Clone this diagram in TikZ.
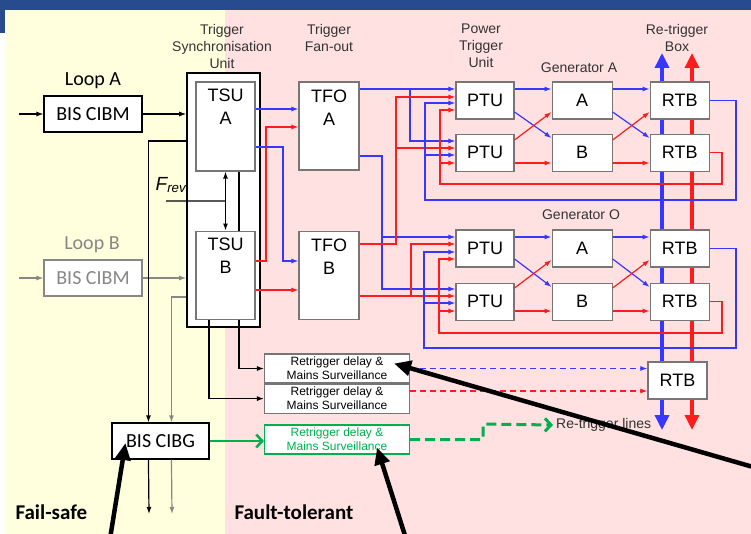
\documentclass[tikz,border=0pt]{standalone}
\usepackage{fontspec}
\setmainfont{Liberation Sans}
\newfontfamily\calibfont{Carlito}
\usetikzlibrary{arrows.meta,calc,positioning}

\definecolor{slideyellow}{RGB}{255,255,222}
\definecolor{slidepink}{RGB}{255,225,225}
\definecolor{banner}{RGB}{40,74,142}
\definecolor{boxgray}{RGB}{118,118,118}
\definecolor{loopgray}{RGB}{135,135,135}
\definecolor{sigblue}{RGB}{55,55,255}
\definecolor{sigred}{RGB}{255,28,28}
\definecolor{siggreen}{RGB}{0,176,80}

\tikzset{
  unit/.style={draw=boxgray,fill=white,line width=1.1pt,inner sep=0pt,
    minimum width=59pt,minimum height=37pt,font=\fontsize{18}{23}\selectfont},
  tallunit/.style={unit,minimum height=88pt},
  unitname/.style={anchor=north,inner sep=0pt,align=center,font=\fontsize{18}{23}\selectfont},
  head/.style={align=center,inner sep=0pt,text=black!80,font=\fontsize{14}{17}\selectfont},
  bis/.style={draw=black,fill=white,line width=1.1pt,minimum width=98pt,minimum height=36pt,
    inner sep=0pt,font=\calibfont\fontsize{20}{24}\selectfont},
  delay/.style={unit,minimum width=145pt,minimum height=29pt,align=center,
    font=\fontsize{12}{14}\selectfont},
  ctrl/.style={draw=black,line width=1.2pt},
  bwire/.style={draw=sigblue,line width=1.2pt},
  rwire/.style={draw=sigred,line width=1.2pt},
  busline/.style={line width=3.5pt,{Triangle[length=15pt,width=14pt]}-{Triangle[length=15pt,width=14pt]}},
  pointer/.style={draw=black,line width=4.5pt,-{Triangle[length=17pt,width=15pt]}},
}

\begin{document}
\begin{tikzpicture}[x=1pt,y=-1pt,>={Latex[length=7pt,width=5pt]}]
  \useasboundingbox (0,0) rectangle (751,534);
  % slide background
  \fill[banner] (0,0) rectangle (751,10);
  \fill[banner] (0,0) rectangle (5,33);
  \fill[slideyellow] (5,10) rectangle (225,534);
  \fill[slidepink] (225,10) rectangle (751,534);

  % re-trigger buses
  \coordinate (bbtop) at (662,53);
  \coordinate (bbbot) at (662,430);
  \coordinate (rbtop) at (692,53);
  \coordinate (rbbot) at (692,430);
  \draw[busline,sigblue] (bbbot) -- (bbtop);
  \draw[busline,sigred] (rbbot) -- (rbtop);

  % headings
  \node[head] (tsuhead) at (222,46) {Trigger\\Synchronisation\\Unit};
  \node[head] (tfohead) at (329,38) {Trigger\\Fan-out};
  \node[head] (ptuhead) at (481,46) {Power\\Trigger\\Unit};
  \node[head] (rtbhead) at (677,38) {Re-trigger\\Box};
  \node[head] (genAhead) at (579,68) {Generator A};
  \node[head] (genOhead) at (581,215) {Generator O};

  % fail-safe side
  \node[font=\calibfont\fontsize{20}{24}\selectfont,anchor=base] (loopA) at (93,86) {Loop A};
  \node[bis] (cibmA) at (93,114) {BIS CIBM};
  \node[font=\calibfont\fontsize{20}{24}\selectfont,anchor=base,text=loopgray] (loopB) at (92,250) {Loop B};
  \node[bis,draw=loopgray,text=loopgray] (cibmB) at (93,278) {BIS CIBM};
  \node[bis,minimum width=97pt] (cibg) at (160.5,441) {BIS CIBG};
  \node[font=\calibfont\bfseries\fontsize{21}{24}\selectfont,anchor=base west] (failsafe) at (12,519) {Fail-safe};
  \node[font=\calibfont\bfseries\fontsize{21}{24}\selectfont,anchor=base west] (faulttol) at (231,519) {Fault-tolerant};

  % synchronisation and fan-out
  \node[draw=black,fill=white,line width=1.6pt,minimum width=73pt,minimum height=254pt] (tsu) at (223.5,200) {};
  \node[tallunit,minimum height=89pt] (tsuA) at (225.5,126.5) {};
  \node[tallunit,below=59pt of tsuA] (tsuB) {};
  \node[unitname] (tsuAname) at ([yshift=-7pt]tsuA.north) {TSU\\A};
  \node[unitname] (tsuBname) at ([yshift=-7pt]tsuB.north) {TSU\\B};
  \node[tallunit,minimum width=60pt] (tfoA) at (329,126) {};
  \node[tallunit,minimum width=60pt,below=60pt of tfoA] (tfoB) {};
  \node[unitname] (tfoAname) at ([yshift=-8pt]tfoA.north) {TFO\\A};
  \node[unitname] (tfoBname) at ([yshift=-8pt]tfoB.north) {TFO\\B};
  \node[font=\fontsize{19}{20}\selectfont\itshape,inner sep=0pt] (frev) at (171,185) {F\textsubscript{rev}};

  % generator A chain
  \node[unit,minimum width=58pt] (ptuA1) at (485,100.5) {PTU};
  \node[unit,minimum width=58pt,below=14pt of ptuA1] (ptuA2) {PTU};
  \node[unit,minimum width=60pt,right=37pt of ptuA1] (genAa) {A};
  \node[unit,minimum width=60pt,right=37pt of ptuA2] (genAb) {B};
  \node[unit,right=37pt of genAa] (rtbA1) {RTB};
  \node[unit,right=37pt of genAb] (rtbA2) {RTB};

  % generator O chain
  \node[unit,minimum width=58pt] (ptuO1) at (485,248.5) {PTU};
  \node[unit,minimum width=58pt,below=15pt of ptuO1] (ptuO2) {PTU};
  \node[unit,minimum width=60pt,right=37pt of ptuO1] (genOa) {A};
  \node[unit,minimum width=60pt,right=37pt of ptuO2] (genOb) {B};
  \node[unit,right=37pt of genOa] (rtbO1) {RTB};
  \node[unit,right=37pt of genOb] (rtbO2) {RTB};
  \node[unit] (rtbR) at (677.5,380.5) {RTB};

  % retrigger delays
  \node[delay] (rd1) at (337,368.5) {Retrigger delay \&\\Mains Surveillance};
  \node[delay,below=0pt of rd1] (rd2) {Retrigger delay \&\\Mains Surveillance};
  \node[delay,draw=siggreen,text=siggreen] (rdG) at (337,439.5) {Retrigger delay \&\\Mains Surveillance};
  \node[head,anchor=west,inner sep=3pt] (relines) at (553,425) {Re-trigger lines};

  % black and gray links
  \coordinate (inA) at (19,114);
  \coordinate (inB) at (19,278);
  \coordinate (frevin) at (166,201);
  \coordinate (outblack) at (149,514);
  \coordinate (outgray) at (172,514);
  \draw[ctrl,->] (inA) -- (cibmA);
  \draw[ctrl,->] (cibmA) -- (cibmA -| tsu.west);
  \draw[draw=loopgray,line width=1.2pt,->] (inB) -- (cibmB);
  \draw[draw=loopgray,line width=1.2pt,->] (cibmB) -- (cibmB -| tsu.west);
  \draw[ctrl,->] (tsu.west |- 0,141) -| ([xshift=37pt]cibg.north west);
  \draw[draw=loopgray,line width=1.2pt,->] (tsu.west |- 0,297) -| ([xshift=60pt]cibg.north west);
  \draw[ctrl,->] ([xshift=37pt]cibg.south west) -- (outblack);
  \draw[draw=loopgray,line width=1.2pt,->] ([xshift=60pt]cibg.south west) -- (outgray);
  \draw[ctrl] (frevin) -- ($(tsuA.south)!.5!(tsuB.north)$);
  \draw[ctrl,<->] (tsuA.south) -- (tsuB.north);
  \draw[ctrl] ([xshift=13.5pt]tsuA.south) -- ([xshift=13.5pt]tsuB.north);
  \draw[ctrl,->] ([xshift=13.5pt]tsuB.south) |- (rd1.west);
  \draw[ctrl,->] ([xshift=-16.5pt]tsuB.south) |- (rd2.west);

  % TSU to TFO
  \draw[bwire,->] (tsuA.east |- 0,109) -- (tfoA.west |- 0,109);
  \draw[rwire,->] (tsuB.east |- 0,261) -| (266,127) -- (tfoA.west |- 0,127);
  \draw[bwire,->] (tsuA.east |- 0,147) -| (283,261) -- (tfoB.west |- 0,261);
  \draw[rwire,->] (tsuB.east |- 0,290) -- (tfoB.west |- 0,290);

  % TFO to PTU
  \draw[bwire,->] (tfoA.east |- 0,89) -- (ptuA1.west |- 0,89);
  \draw[bwire,->] (410,89) |- (ptuA2.west |- 0,141);
  \draw[bwire,->] (tfoA.east |- 0,156) -| (382,289) -- (ptuO2.west |- 0,289);
  \draw[bwire,->] (382,237) -- (ptuO1.west |- 0,237);
  \draw[rwire,->] (tfoB.east |- 0,244) -| (396,97) -- (ptuA1.west |- 0,97);
  \draw[rwire,->] (396,148) -- (ptuA2.west |- 0,148);
  \draw[rwire,->] (tfoB.east |- 0,296) -- (ptuO2.west |- 0,296);
  \draw[rwire,->] (411,296) |- (ptuO1.west |- 0,244);

  % RTB feedback
  \draw[bwire,->] (rtbA1.east) -| (736,200) -| (425,103) -- (ptuA1.west |- 0,103);
  \draw[bwire,->] (425,155) -- (ptuA2.west |- 0,155);
  \draw[rwire,->] (rtbA2.east) -| (722,184) -| (440,110) -- (ptuA1.west |- 0,110);
  \draw[rwire,->] (440,163) -- (ptuA2.west |- 0,163);
  \draw[bwire,->] (rtbO1.east) -| (736,348) -| (424,252) -- (ptuO1.west |- 0,252);
  \draw[bwire,->] (424,303) -- (ptuO2.west |- 0,303);
  \draw[rwire,->] (rtbO2.east) -| (722,333) -| (439,259) -- (ptuO1.west |- 0,259);
  \draw[rwire,->] (439,311) -- (ptuO2.west |- 0,311);

  % PTU -> generator -> RTB
  \draw[bwire,->] (ptuA1.east |- 0,89) -- (genAa.west |- 0,89);
  \draw[bwire,->] (ptuA1.east |- 0,112) -- (genAb.west |- 0,138);
  \draw[rwire,->] (ptuA2.east |- 0,140) -- (genAa.west |- 0,112);
  \draw[rwire,->] (ptuA2.east |- 0,163) -- (genAb.west |- 0,163);
  \draw[bwire,->] (genAa.east |- 0,89) -- (rtbA1.west |- 0,89);
  \draw[bwire,->] (genAa.east |- 0,112) -- (rtbA2.west |- 0,138);
  \draw[rwire,->] (genAb.east |- 0,140) -- (rtbA1.west |- 0,112);
  \draw[rwire,->] (genAb.east |- 0,163) -- (rtbA2.west |- 0,163);
  \draw[bwire,->] (ptuO1.east |- 0,237) -- (genOa.west |- 0,237);
  \draw[bwire,->] (ptuO1.east |- 0,259) -- (genOb.west |- 0,287);
  \draw[rwire,->] (ptuO2.east |- 0,288) -- (genOa.west |- 0,260);
  \draw[rwire,->] (ptuO2.east |- 0,311) -- (genOb.west |- 0,311);
  \draw[bwire,->] (genOa.east |- 0,237) -- (rtbO1.west |- 0,237);
  \draw[bwire,->] (genOa.east |- 0,259) -- (rtbO2.west |- 0,287);
  \draw[rwire,->] (genOb.east |- 0,288) -- (rtbO1.west |- 0,260);
  \draw[rwire,->] (genOb.east |- 0,311) -- (rtbO2.west |- 0,311);

  % delay outputs
  \draw[bwire,dash pattern=on 6pt off 4pt,->] (rd1.east) -- (rd1.east -| rtbR.west);
  \draw[rwire,dash pattern=on 6pt off 4pt,->] (rd2.east |- 0,391) -- (rtbR.west |- 0,391);
  \draw[draw=siggreen,line width=2.5pt,-{Straight Barb[length=6pt,width=13pt]}] (cibg.east) -- (cibg.east -| rdG.west);
  \draw[draw=siggreen,line width=3pt,dash pattern=on 10pt off 5pt,rounded corners=2pt,
    -{Straight Barb[length=6pt,width=13pt]}] (rdG.east) -| (483,424) -- (relines.west);

  % pointers
  \coordinate (ptr1) at (760,469);
  \coordinate (ptr2) at (408,545);
  \coordinate (ptr3) at (109,545);
  \draw[pointer] (ptr1) -- ([xshift=-16pt,yshift=5pt]rd1.east);
  \draw[pointer] (ptr2) -- ([xshift=-33pt,yshift=-8pt]rdG.east);
  \draw[pointer] (ptr3) -- ([xshift=14pt,yshift=-2pt]cibg.west);
\end{tikzpicture}
\end{document}
